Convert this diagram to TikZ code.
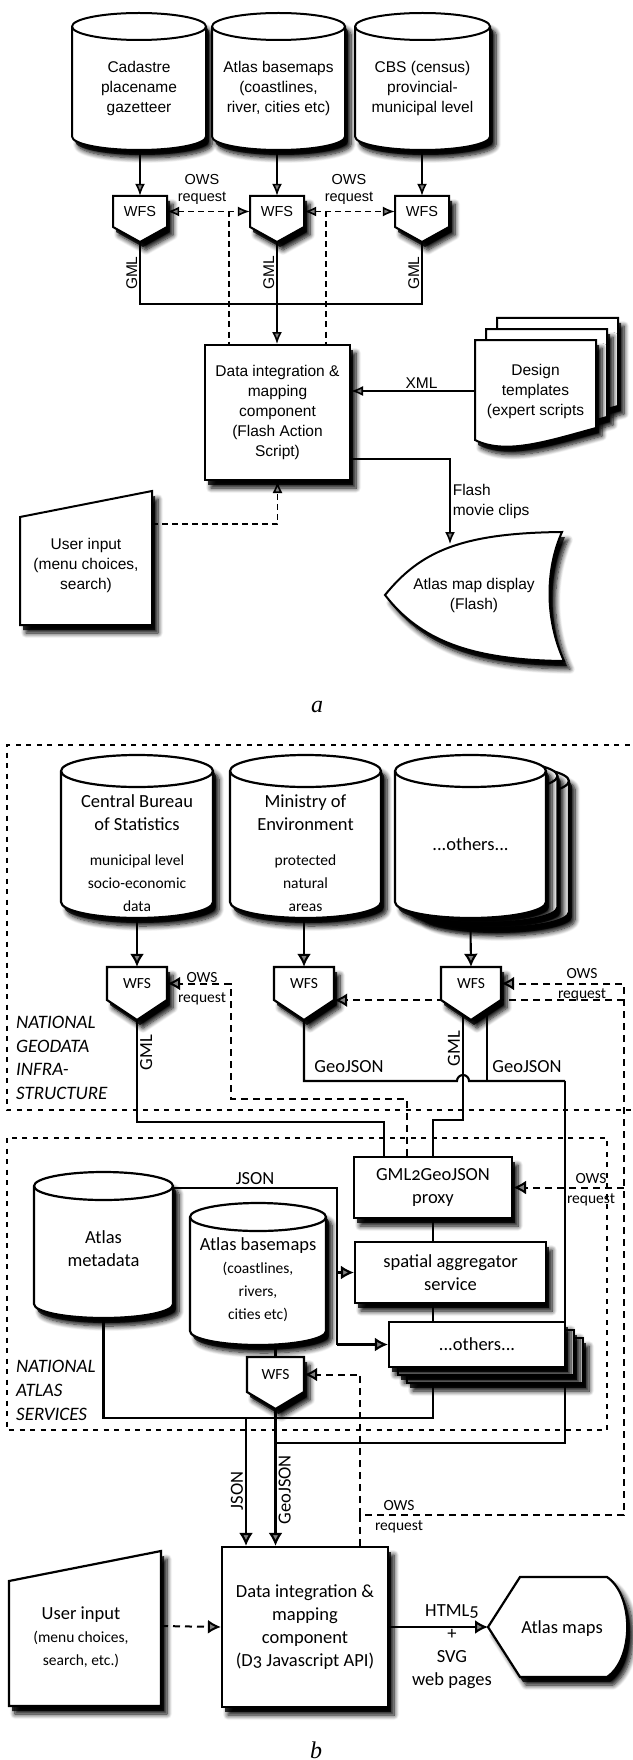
\documentclass[tikz,border=0pt]{standalone}
\usepackage{fontspec}
\setmainfont{Liberation Sans}
\newfontfamily\gillfont[Numbers=OldStyle]{Carlito}
\newfontfamily\capfont{Liberation Serif}
\newcommand\gillbig{\gillfont\fontsize{18.5}{23}\selectfont}
\newcommand\gillsmall{\gillfont\fontsize{15.5}{20}\selectfont}
\usetikzlibrary{arrows.meta,shadows,shadows.blur}
% database can: #1 outline style, #2 rim style, #3 centre x, #4 top y, #5 x radius, #6 height, #7 y radius
\newcommand\dbcan[7]{%
  \draw[#1] ({#3-#5},{#4+#7}) -- ({#3-#5},{#4+#6-#7})
    arc[start angle=180,end angle=360,x radius=#5pt,y radius=#7pt]
    -- ({#3+#5},{#4+#7})
    arc[start angle=0,end angle=180,x radius=#5pt,y radius=#7pt] -- cycle;
  \draw[#2] ({#3-#5},{#4+#7}) arc[start angle=180,end angle=360,x radius=#5pt,y radius=#7pt];}

\begin{document}
\begin{tikzpicture}[x=1pt,y=-1pt,
    dropshade/.style={blur shadow={shadow xshift=6pt,shadow yshift=-8pt,shadow blur radius=5pt,shadow blur steps=8,shadow opacity=100},
      drop shadow={shadow xshift=3pt,shadow yshift=-5pt,fill=black,opacity=.8}},
    shapeA/.style={draw,line width=2pt,fill=white,dropshade},
    shapeB/.style={draw,line width=2.2pt,fill=white,dropshade},
    rimA/.style={line width=2pt},
    rimB/.style={line width=2.2pt},
    txtA/.style={font=\fontsize{15.5}{20}\selectfont,align=center,inner sep=2pt},
    smallA/.style={font=\fontsize{14.5}{17}\selectfont,align=center,inner sep=2pt},
    wfsA/.style={smallA,minimum width=54,minimum height=31,inner sep=0pt},
    txtB/.style={font=\gillbig,align=center,inner sep=2pt},
    smallB/.style={font=\gillsmall,align=center,inner sep=2pt},
    wfsB/.style={smallB,inner sep=0pt},
    wireA/.style={line width=1.6pt},
    wireB/.style={line width=2.1pt},
    owsA/.style={line width=1.6pt,dash pattern=on 6pt off 4pt},
    owsB/.style={line width=2pt,dash pattern=on 7pt off 5pt},
    regionframe/.style={line width=1.5pt,dash pattern=on 5pt off 5.5pt},
    regionlbl/.style={font=\gillfont\itshape\fontsize{19}{23.7}\selectfont,align=left,anchor=west,inner sep=0pt},
    gmlA/.style={txtA,rotate=90,anchor=south},
    figlbl/.style={font=\capfont\itshape\fontsize{24}{28}\selectfont}]
\useasboundingbox (0,0) rectangle (632,1760);

% ---------------- a: Flash atlas ----------------
\begin{scope}[>={Latex[length=12pt,width=10pt]}]
\dbcan{shapeA}{rimA}{139}{13}{67}{137}{13.5}
\dbcan{shapeA}{rimA}{278.5}{13}{66.5}{137}{13.5}
\dbcan{shapeA}{rimA}{422.5}{13}{67.5}{137}{13.5}
\node[txtA,minimum width=134,minimum height=123] (cadastre) at (139,88.5) {Cadastre\\placename\\gazetteer};
\node[txtA,minimum width=133,minimum height=123] (basemapsA) at (278.5,88.5) {Atlas basemaps\\(coastlines,\\river, cities etc)};
\node[txtA,minimum width=135,minimum height=123] (census) at (422.5,88.5) {CBS (census)\\provincial-\\municipal level};

\draw[shapeA] (113,196) -- (167,196) -- (167,227) -- (140,242) -- (113,227) -- cycle;
\draw[shapeA] (250,196) -- (304,196) -- (304,227) -- (277,242) -- (250,227) -- cycle;
\draw[shapeA] (395,196) -- (449,196) -- (449,227) -- (422,242) -- (395,227) -- cycle;
\node[wfsA] (wfsA1) at (140,211.5) {WFS};
\node[wfsA] (wfsA2) at (277,211.5) {WFS};
\node[wfsA] (wfsA3) at (422,211.5) {WFS};

\node[shapeA,txtA,minimum width=145,minimum height=135] (dataA) at (277.5,412.5)
  {Data integration \&\\mapping\\component\\(Flash Action\\Script)};

% design templates stack
\draw[shapeA] (497,318) -- (618,318) -- (618,406) .. controls (567,420) and (527,433) .. (497,418) -- cycle;
\draw[shapeA] (486,329) -- (607,329) -- (607,417) .. controls (556,431) and (516,444) .. (486,429) -- cycle;
\draw[shapeA] (475,340) -- (596,340) -- (596,428) .. controls (545,442) and (505,455) .. (475,440) -- cycle;
\node[txtA,minimum width=121,minimum height=88] (templates) at (535.5,391) {Design\\templates\\(expert scripts};

\draw[shapeA] (20,517) -- (152,491) -- (152,625) -- (20,625) -- cycle;
\node[txtA] (userA) at (86,565) {User input\\(menu choices,\\search)};
\coordinate (userAout) at (152,524);

\draw[shapeA] (385,595) .. controls (420,552) and (460,533) .. (562,532)
  .. controls (545,570) and (545,620) .. (564,661)
  .. controls (470,660) and (420,640) .. (385,595) -- cycle;
\node[txtA] (displayA) at (474,595) {Atlas map display\\(Flash)};
\coordinate (displayIn) at (450,544);

\draw[wireA,->] (cadastre.south -| wfsA1.north) -- (wfsA1.north);
\draw[wireA,->] (basemapsA.south -| wfsA2.north) -- (wfsA2.north);
\draw[wireA,->] (census.south -| wfsA3.north) -- (wfsA3.north);
\draw[owsA,<->] (wfsA1.east) -- (wfsA2.west);
\draw[owsA,<->] (wfsA2.east) -- (wfsA3.west);
\coordinate (owsA1) at (229,211.5);
\coordinate (owsA2) at (326,211.5);
\draw[owsA] (owsA1) -- (owsA1 |- dataA.north);
\draw[owsA] (owsA2) -- (owsA2 |- dataA.north);
\node[smallA] (owsA1Txt) at (202,189.5) {OWS\\request};
\node[smallA] (owsA2Txt) at (349,189.5) {OWS\\request};
\draw[wireA] ([yshift=-15pt]wfsA1.south) -- ++(0,62) node[midway,gmlA] {GML}
  -| ([yshift=-15pt]wfsA3.south) node[pos=.75,gmlA] {GML};
\draw[wireA,->] ([yshift=-15pt]wfsA2.south) -- (wfsA2.south |- dataA.north) node[pos=.3,gmlA] {GML};
\draw[wireA,->] (templates.west) -- (templates.west -| dataA.east) node[pos=.43,above,txtA] {XML};
\draw[wireA,->] ([yshift=22pt]dataA.south east) -| (displayIn)
  node[pos=.75,right,txtA,align=left] {Flash\\movie clips};
\draw[owsA,->] (userAout) -| (dataA.south);
\node[figlbl] (capA) at (317,707) {a};
\end{scope}

% ---------------- b: D3 atlas ----------------
\begin{scope}[>={Latex[length=13pt,width=14pt]}]
\draw[regionframe] (640,745) -- (7,745) -- (7,1110) -- (640,1110);
\draw[regionframe] (7,1138) rectangle (607,1430);
\node[regionlbl] (geodataLbl) at (16,1058) {NATIONAL\\GEODATA\\INFRA-\\STRUCTURE};
\node[regionlbl] (servicesLbl) at (16,1390.5) {NATIONAL\\ATLAS\\SERVICES};

\dbcan{shapeB}{rimB}{137}{755}{76}{163}{16}
\dbcan{shapeB}{rimB}{305.5}{755}{75.5}{163}{16}
\dbcan{shapeB}{rimB}{493.5}{765}{75.5}{163}{16}
\dbcan{shapeB}{rimB}{482}{760}{75.5}{163}{16}
\dbcan{shapeB}{rimB}{470.5}{755}{75.5}{163}{16}
\node[txtB,minimum width=152,minimum height=130] (cbsB) at (137,853)
  {\gillbig Central Bureau\\\gillbig of Statistics\\[12pt]\gillsmall municipal level\\\gillsmall socio-economic\\\gillsmall data};
\node[txtB,minimum width=151,minimum height=130] (ministry) at (305.5,853)
  {\gillbig Ministry of\\\gillbig Environment\\[12pt]\gillsmall protected\\\gillsmall natural\\\gillsmall areas};
\node[txtB,minimum width=151,minimum height=147] (othersDb) at (470.5,844.5) {...others...};

\draw[shapeB] (107,967) -- (167,967) -- (167,1000) -- (137,1020) -- (107,1000) -- cycle;
\draw[shapeB] (274,967) -- (334,967) -- (334,1000) -- (304,1020) -- (274,1000) -- cycle;
\node[wfsB,minimum width=60,minimum height=33] (wfsB1) at (137,983.5) {WFS};
\node[wfsB,minimum width=60,minimum height=33] (wfsB2) at (304,983.5) {WFS};

\node[shapeB,txtB,minimum width=158,minimum height=61] (proxy) at (433,1187.5) {GML2GeoJSON\\proxy};
\node[shapeB,txtB,minimum width=191,minimum height=61] (spatial) at (450.5,1272.5) {spatial aggregator\\service};

% lines running behind the WFS and the stack of others
\coordinate (owsB1) at (231,1099);
\coordinate (owsSplit) at (360,1515);
\coordinate (owsCorner) at (624,1515);
\coordinate (hopIn) at (457,1081);
\coordinate (geoBend) at (565,1081);
\coordinate (geoJoin) at (275.5,1443);
\coordinate (jsonKnot) at (246,1418);
\coordinate (jsonBus) at (337,1188);
\draw[owsB,->] (owsCorner |- wfsB2.south east) -- (wfsB2.south east);
\draw[wireB] (geoBend) |- (geoJoin);
\draw[wireB] (proxy.south |- spatial.south) |- (jsonKnot);

\draw[shapeB] (441,967) -- (501,967) -- (501,1000) -- (471,1020) -- (441,1000) -- cycle;
\node[wfsB,minimum width=60,minimum height=33] (wfsB3) at (471,983.5) {WFS};

\node[shapeB,minimum width=176,minimum height=45] (othersR3) at (495,1360.5) {};
\node[shapeB,minimum width=176,minimum height=45] (othersR2) at (486,1352.5) {};
\node[shapeB,txtB,minimum width=176,minimum height=45] (othersR) at (477,1344.5) {...others...};

\dbcan{shapeB}{rimB}{103.5}{1172}{69.5}{146}{14}
\node[txtB,minimum width=139,minimum height=139] (metadata) at (103.5,1248.5) {Atlas\\metadata};
\dbcan{shapeB}{rimB}{258}{1203}{68}{142}{14}
\node[txtB,minimum width=136,minimum height=130] (basemapsB) at (258,1280)
  {\gillbig Atlas basemaps\\\gillsmall (coastlines,\\\gillsmall rivers,\\\gillsmall cities etc)};

\draw[shapeB] (247,1357) -- (304,1357) -- (304,1392) -- (275.5,1409) -- (247,1392) -- cycle;
\node[wfsB,minimum width=57,minimum height=35] (wfsB4) at (275.5,1374.5) {WFS};

\node[shapeB,txtB,minimum width=166,minimum height=160] (dataB) at (305,1627)
  {Data integration \&\\mapping\\component\\(D3 Javascript API)};

\draw[shapeB] (9,1581) -- (161,1551) -- (161,1706) -- (9,1706) -- cycle;
\node[txtB] (userB) at (81,1637) {\gillbig User input\\\gillsmall (menu choices,\\\gillsmall search, etc.)};
\coordinate (userBout) at (161,1626);

\draw[shapeB] (488,1627) -- (520,1577) -- (607,1577) .. controls (634,1595) and (634,1659) .. (607,1677)
  -- (520,1677) -- cycle;
\node[txtB] (atlasmaps) at (562,1629) {Atlas maps};
\coordinate (mapsIn) at (488,1627);

% sources to WFS
\draw[wireB,->] (cbsB.south -| wfsB1.north) -- (wfsB1.north);
\draw[wireB,->] (ministry.south -| wfsB2.north) -- (wfsB2.north);
\draw[wireB,->] ([yshift=-10pt]othersDb.south) -- (wfsB3.north);

% GML and GeoJSON feeds
\draw[wireB] ([yshift=-20pt]wfsB1.south) -- ++(0,102) node[pos=.32,txtB,rotate=90,anchor=north] {GML}
  -| ([xshift=-49pt]proxy.north);
\draw[wireB] ([xshift=-8pt,yshift=-15pt]wfsB3.south) -- ++(0,105) node[pos=.32,txtB,rotate=90,anchor=south] {GML}
  -| (proxy.north);
\draw[wireB] ([yshift=-20pt]wfsB2.south) |- (hopIn) arc[start angle=180,end angle=0,radius=6pt] -- (geoBend);
\draw[wireB] ([xshift=16pt,yshift=-10pt]wfsB3.south) -- ++(0,71);
\node[txtB] (geoLbl1) at (349,1067) {GeoJSON};
\node[txtB] (geoLbl2) at (527,1067) {GeoJSON};
\draw[wireB] (proxy.south) -- (proxy.south |- spatial.north);

% JSON feeds
\draw[wireB] (metadata.east |- jsonBus) -- (jsonBus) node[midway,above,txtB] {JSON} -- (jsonBus |- othersR.west);
\draw[wireB,->] (jsonBus |- spatial.west) -- (spatial.west);
\draw[wireB,->] (jsonBus |- othersR.west) -- (othersR.west);
\draw[wireB] (metadata.south) |- (jsonKnot);
\draw[wireB] (basemapsB.south -| wfsB4.north) -- (wfsB4.north);
\draw[wireB,->] (jsonKnot) -- (jsonKnot |- dataB.north) node[pos=.57,txtB,rotate=90,anchor=south] {JSON};
\draw[wireB,->] ([yshift=-17pt]wfsB4.south) -- (wfsB4.south |- dataB.north)
  node[pos=.59,txtB,rotate=90,anchor=north] {GeoJSON};

% OWS requests
\draw[owsB,->] ([xshift=-26pt]proxy.north) |- (owsB1) |- (wfsB1.east);
\draw[owsB,->] ([xshift=55pt]dataB.north) -- (owsSplit) -- (owsCorner) |- (wfsB3.east);
\draw[owsB,->] (owsSplit) |- (wfsB4.east);
\draw[owsB,->] (owsCorner |- proxy.east) -- (proxy.east);
\node[smallB] (owsB1Txt) at (202,989) {OWS\\request};
\node[smallB] (owsB2Txt) at (582,985) {OWS\\request};
\node[smallB] (owsB3Txt) at (591,1190) {OWS\\request};
\node[smallB] (owsB4Txt) at (399,1517) {OWS\\request};

% output
\draw[owsB,->] (userBout) -- (dataB.west);
\draw[wireB,->] (dataB.east) -- (mapsIn);
\node[txtB] (webLbl) at (452,1646.5) {HTML5\\+\\SVG\\web pages};
\node[figlbl] (capB) at (316,1750) {b};
\end{scope}
\end{tikzpicture}
\end{document}
